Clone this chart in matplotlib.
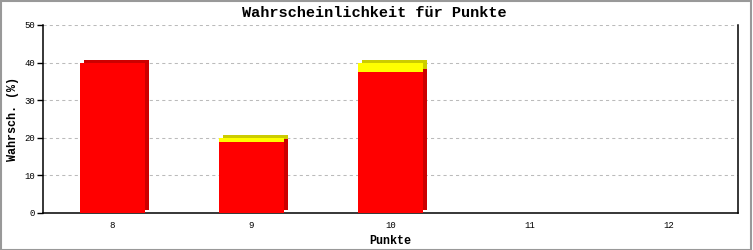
import matplotlib
matplotlib.use('Agg')
import matplotlib.pyplot as plt
import matplotlib.transforms as mtransforms
from matplotlib.patches import Rectangle
import numpy as np

# data
punkte = ['8', '9', '10', '11', '12']
red_vals = [40, 19, 37.5, 0, 0]
yellow_vals = [0, 1, 2.5, 0, 0]
yticks = [0, 10, 20, 30, 40, 50]

red = '#ff0000'
red_dark = '#cc0000'
yellow = '#ffff00'
yellow_dark = '#cccc00'
mono = 'Liberation Mono'

fig = plt.figure(figsize=(7.53, 2.5), dpi=100)
ax = fig.add_axes([43/753, 37/250, 695/753, 188/250])

x = np.arange(len(punkte))
width = 0.47
red_vals = np.array(red_vals)
yellow_vals = np.array(yellow_vals)

# 3d look: darker copy shifted a few pixels right/up behind the front bars
shift = mtransforms.offset_copy(ax.transData, fig=fig, x=4, y=3, units='dots')
has = (red_vals + yellow_vals) > 0
ax.bar(x[has], red_vals[has], width, color=red_dark, transform=shift, zorder=2, linewidth=0)
ax.bar(x[has], yellow_vals[has], width, bottom=red_vals[has], color=yellow_dark,
       transform=shift, zorder=2, linewidth=0)
ax.bar(x[has], red_vals[has], width, color=red, zorder=3, linewidth=0)
ax.bar(x[has], yellow_vals[has], width, bottom=red_vals[has], color=yellow, zorder=3, linewidth=0)

ax.set_xlim(-0.5, len(punkte) - 0.5)
ax.set_ylim(0, 50)
ax.set_xticks(x)
ax.set_xticklabels(punkte, family=mono, fontsize=6.5)
ax.set_yticks(yticks)
ax.set_yticklabels([str(t) for t in yticks], family=mono, fontsize=6.5)
ax.tick_params(axis='x', length=0, pad=5.5)
ax.tick_params(axis='y', length=4, width=1, pad=1.5, color='black')

ax.yaxis.grid(True, color='#bbbbbb', linestyle=(0, (3, 3)), linewidth=0.75, zorder=1)
ax.set_axisbelow(True)

ax.spines['top'].set_visible(False)
for s in ['left', 'bottom', 'right']:
    ax.spines[s].set_linewidth(1.1)
    ax.spines[s].set_color('black')

fig.text(374/753, 1 - 13/250, 'Wahrscheinlichkeit für Punkte', family=mono,
         fontweight='bold', fontsize=11, ha='center', va='center')
ax.set_xlabel('Punkte', family=mono, fontweight='bold', fontsize=8.5, labelpad=4)
ax.set_ylabel('Wahrsch. (%)', family=mono, fontweight='bold', fontsize=8.5, labelpad=4)

# grey frame round the whole image
fig.patches.append(Rectangle((0.001, 0.002), 0.997, 0.994, transform=fig.transFigure,
                             fill=False, edgecolor='#999999', linewidth=1.5))

fig.savefig('out.png', dpi=100)
